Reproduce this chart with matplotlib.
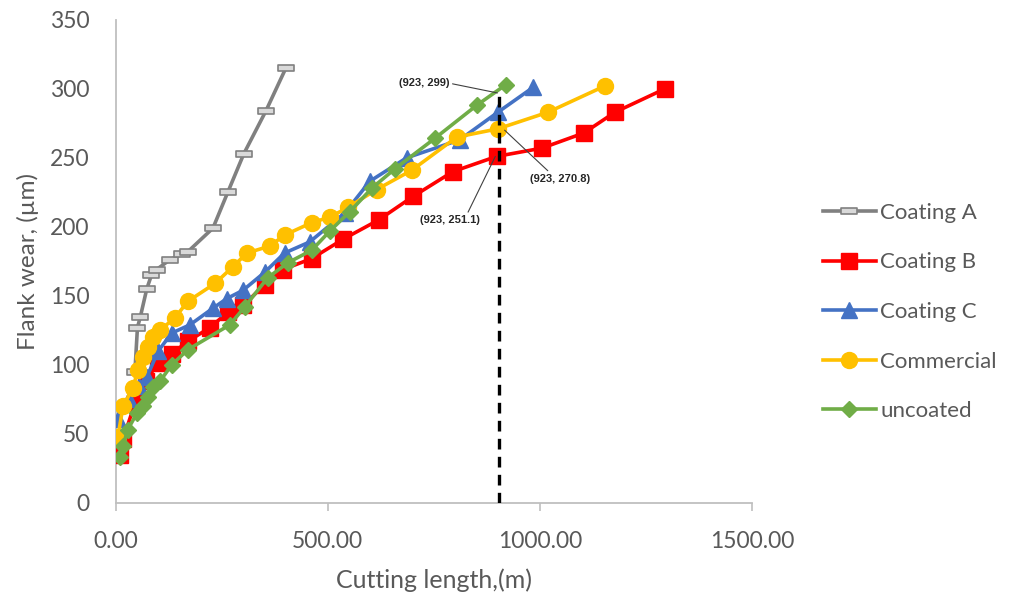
import matplotlib
matplotlib.use("Agg")
import matplotlib.pyplot as plt
from matplotlib.path import Path
from matplotlib.ticker import FormatStrFormatter

# --- data ---
a_x = [45, 51, 58, 73, 84, 96, 127, 155, 170, 229, 264, 302, 354, 401]
a_y = [95, 127, 135, 155, 165, 169, 176, 180, 182, 199, 225, 253, 284, 315]

b_x = [9, 17, 45, 70, 99, 132, 170, 222, 264, 300, 351, 394, 462, 536,
       620, 701, 795, 898, 1005, 1104, 1177, 1295]
b_y = [35, 46, 72, 88, 101, 108, 117, 127, 138, 143, 158, 169, 177, 191,
       205, 222, 240, 251, 257, 268, 283, 300]

c_x = [5, 30, 55, 73, 100, 132, 175, 229, 262, 300, 351, 398, 457, 540,
       599, 686, 811, 901, 984]
c_y = [61, 75, 85, 91, 110, 123, 129, 141, 148, 154, 167, 181, 189, 210,
       233, 250, 263, 283, 301]

com_x = [5, 17, 40, 52, 64, 76, 87, 104, 139, 170, 234, 276, 309, 363,
         398, 462, 505, 547, 615, 698, 804, 901, 1019, 1153]
com_y = [48, 70, 83, 96, 106, 113, 120, 125, 134, 146, 159, 171, 181, 186,
         194, 203, 207, 214, 227, 241, 265, 271, 283, 302]

unc_x = [9, 17, 28, 50, 64, 76, 87, 104, 132, 170, 269, 304, 358, 406,
         462, 505, 552, 604, 658, 752, 851, 920]
unc_y = [33, 41, 53, 65, 70, 77, 84, 88, 100, 111, 129, 142, 163, 174,
         183, 197, 211, 228, 242, 264, 288, 303]

cut_x = [903, 903]
cut_y = [0, 300]

notes = ["(923, 299)", "(923, 270.8)", "(923, 251.1)"]
note_xy = [(900, 297), (917, 270), (895, 251)]
note_text_xy = [(728, 304), (1047, 235), (788, 205)]

x_ticks = [0, 500, 1000, 1500]
y_ticks = [0, 50, 100, 150, 200, 250, 300, 350]

GREY_TXT = "#595959"
AXIS_COL = "#BFBFBF"

plt.rcParams["font.family"] = ["Lato", "DejaVu Sans"]

fig = plt.figure(figsize=(10.16, 6.0), dpi=100)
ax = fig.add_axes([0.114, 0.162, 0.626, 0.805])

# Excel style "dash" marker: flat outlined rectangle
dash = Path([(-1, -0.35), (1, -0.35), (1, 0.35), (-1, 0.35), (-1, -0.35)],
            [Path.MOVETO, Path.LINETO, Path.LINETO, Path.LINETO, Path.CLOSEPOLY])

ax.plot(a_x, a_y, color="#808080", lw=2.6, marker=dash, ms=11,
        mfc="#D9D9D9", mec="#808080", mew=1.2, label="Coating A", zorder=3)
ax.plot(b_x, b_y, color="#FF0000", lw=2.6, marker="s", ms=11.5,
        label="Coating B", zorder=3)
ax.plot(c_x, c_y, color="#4472C4", lw=2.6, marker="^", ms=11.5,
        label="Coating C", zorder=4)
ax.plot(com_x, com_y, color="#FFC000", lw=2.6, marker="o", ms=11.5,
        label="Commercial", zorder=5)
ax.plot(unc_x, unc_y, color="#70AD47", lw=2.6, marker="D", ms=8,
        label="uncoated", zorder=6)

# cutting length reference line
ax.plot(cut_x, cut_y, color="black", lw=2.4, ls=(0, (3.2, 2.2)), zorder=7)

rel = [(1.0, 0.5), (0.35, 1.0), (0.78, 1.0)]
for txt, xy, xyt, rp in zip(notes, note_xy, note_text_xy, rel):
    ax.annotate(txt, xy=xy, xytext=xyt, ha="center", va="center",
                fontsize=8, fontweight="bold", family=["Liberation Sans"],
                color="#262626",
                arrowprops=dict(arrowstyle="-", color="#404040", lw=0.8,
                                shrinkA=0, shrinkB=0, relpos=rp),
                zorder=8)

ax.set_xlim(0, 1500)
ax.set_ylim(0, 350)
ax.set_xticks(x_ticks)
ax.set_yticks(y_ticks)
ax.xaxis.set_major_formatter(FormatStrFormatter("%.2f"))

for side in ["top", "right"]:
    ax.spines[side].set_visible(False)
for side in ["left", "bottom"]:
    ax.spines[side].set_color(AXIS_COL)
    ax.spines[side].set_linewidth(1.3)

ax.tick_params(axis="x", colors=GREY_TXT, labelsize=16.5, length=6,
               width=1.2, color=AXIS_COL, pad=14)
ax.tick_params(axis="y", colors=GREY_TXT, labelsize=16.5, length=0, pad=19)

ax.set_xlabel("Cutting length,(m)", fontsize=18, color=GREY_TXT, labelpad=12)
ax.set_ylabel("Flank wear, (\u00b5m)", fontsize=17.5, color=GREY_TXT, labelpad=8)

leg = ax.legend(loc="center left", bbox_to_anchor=(0.790, 0.48),
                bbox_transform=fig.transFigure, frameon=False,
                fontsize=16, labelspacing=1.33, handlelength=2.4,
                handletextpad=0.2, labelcolor=GREY_TXT)

fig.savefig("out.png", dpi=100)
